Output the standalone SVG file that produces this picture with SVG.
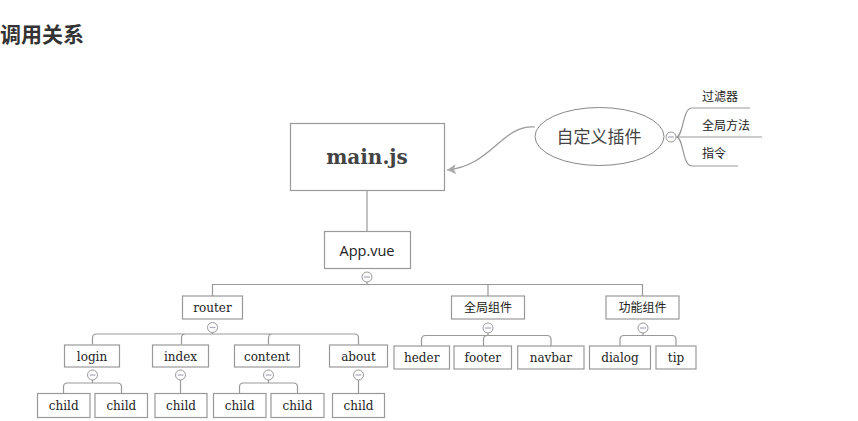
<svg xmlns="http://www.w3.org/2000/svg" width="858" height="421" viewBox="0 0 858 421">
<defs>
<style>
.box{fill:#fff;stroke:#999;stroke-width:1.2}
.ln{fill:none;stroke:#999;stroke-width:1.2}
.tg{fill:#fff;stroke:#999;stroke-width:1}
.mn{stroke:#aab;stroke-width:1.2}
.sf{font-family:"DejaVu Serif","Liberation Serif",serif;font-size:12px;fill:#222;text-anchor:middle}
.cj{font-family:"Noto Sans CJK SC","Noto Sans",sans-serif;font-size:12px;fill:#222}
.mid{text-anchor:middle}
</style>
<marker id="arr" markerWidth="10" markerHeight="10" refX="9" refY="5" orient="auto" markerUnits="userSpaceOnUse">
<path d="M0,0 L9,5 L0,10 L2,5 Z" fill="#aaa"/>
</marker>
</defs>
<rect width="858" height="421" fill="#fff"/>
<text x="0" y="42" font-family="Noto Sans CJK SC,sans-serif" font-size="21" font-weight="bold" fill="#333">调用关系</text>

<g id="connectors">
<path class="ln" d="M535,127 C502,124 492,166 447,170" marker-end="url(#arr)"/>
<line class="ln" x1="367" y1="191" x2="367" y2="231.5"/>
<path class="ln" d="M367,282 V284.5 M212.5,296 V284.5 H642.5 V296 M488,284.5 V296"/>
<path class="ln" d="M212.5,332.5 V334 M92.5,344.5 V338 Q92.5,334 96.5,334 H354.5 Q358.5,334 358.5,338 V344.5 M181.5,344.5 V338 Q181.5,334 185.5,334 M268.5,344.5 V338 Q268.5,334 272.5,334"/>
<path class="ln" d="M92.5,380 V383 M63.5,393.5 V387 Q63.5,383 67.5,383 H117.5 Q121.5,383 121.5,387 V393.5"/>
<path class="ln" d="M180.5,380 V393.5"/>
<path class="ln" d="M268.5,380 V383 M239.5,393.5 V387 Q239.5,383 243.5,383 H293.5 Q297.5,383 297.5,387 V393.5"/>
<path class="ln" d="M358.5,380 V393.5"/>
<path class="ln" d="M488,333 V335.5 M421.5,346 V339.5 Q421.5,335.5 425.5,335.5 H547 Q551,335.5 551,339.5 V346 M483.5,346 V339.5 Q483.5,335.5 487.5,335.5"/>
<path class="ln" d="M643,333 V335.5 M620,346 V339.5 Q620,335.5 624,335.5 H672 Q676,335.5 676,339.5 V346"/>
<path class="ln" d="M676,137 H762 M676,137 C684,137 682,108 692,108 H750 M676,137 C684,137 682,166 692,166 H738"/>
</g>

<g id="main">
<rect class="box" x="290.5" y="123.5" width="154" height="67"/>
<text x="367" y="164" font-family="DejaVu Serif,serif" font-weight="bold" font-size="20" fill="#444" text-anchor="middle">main.js</text>
</g>

<g id="plugin">
<ellipse cx="599.5" cy="136.5" rx="64.5" ry="29" fill="#fff" stroke="#888" stroke-width="1"/>
<text x="599" y="143" class="cj mid" style="font-size:17px;fill:#444">自定义插件</text>
<circle class="tg" cx="671" cy="137" r="5"/><line class="mn" x1="668" y1="137" x2="674" y2="137"/>
</g>
<g id="filter"><text class="cj" x="702" y="101">过滤器</text></g>
<g id="globalmethod"><text class="cj" x="702" y="130">全局方法</text></g>
<g id="directive"><text class="cj" x="702" y="158">指令</text></g>

<g id="app">
<rect class="box" x="324.5" y="231.5" width="86" height="37"/>
<text x="367" y="255.5" font-family="Open Sans,Liberation Sans,sans-serif" font-size="14.5" fill="#222" text-anchor="middle">App.vue</text>
<circle class="tg" cx="367" cy="277" r="5"/><line class="mn" x1="364" y1="277" x2="370" y2="277"/>
</g>

<g id="router">
<rect class="box" x="182.5" y="296" width="60" height="23"/>
<text class="sf" x="212.5" y="312">router</text>
<circle class="tg" cx="212.5" cy="327.5" r="5"/><line class="mn" x1="209.5" y1="327.5" x2="215.5" y2="327.5"/>
</g>
<g id="globalcomp">
<rect class="box" x="451.5" y="296" width="73" height="23"/>
<text class="cj mid" x="488" y="312">全局组件</text>
<circle class="tg" cx="488" cy="328" r="5"/><line class="mn" x1="485" y1="328" x2="491" y2="328"/>
</g>
<g id="funccomp">
<rect class="box" x="606" y="296" width="73" height="23"/>
<text class="cj mid" x="642.5" y="312">功能组件</text>
<circle class="tg" cx="643" cy="328" r="5"/><line class="mn" x1="640" y1="328" x2="646" y2="328"/>
</g>

<g id="login">
<rect class="box" x="64.5" y="345" width="55" height="22"/>
<text class="sf" x="92" y="361">login</text>
<circle class="tg" cx="92.5" cy="375" r="5"/><line class="mn" x1="89.5" y1="375" x2="95.5" y2="375"/>
</g>
<g id="index">
<rect class="box" x="152.5" y="345" width="56" height="22"/>
<text class="sf" x="180.5" y="361">index</text>
<circle class="tg" cx="180.5" cy="375" r="5"/><line class="mn" x1="177.5" y1="375" x2="183.5" y2="375"/>
</g>
<g id="content">
<rect class="box" x="234.5" y="345" width="65" height="22"/>
<text class="sf" x="267" y="361">content</text>
<circle class="tg" cx="268.5" cy="375" r="5"/><line class="mn" x1="265.5" y1="375" x2="271.5" y2="375"/>
</g>
<g id="about">
<rect class="box" x="329.5" y="345" width="58" height="22"/>
<text class="sf" x="358.5" y="361">about</text>
<circle class="tg" cx="358.5" cy="375" r="5"/><line class="mn" x1="355.5" y1="375" x2="361.5" y2="375"/>
</g>

<g id="login-child1"><rect class="box" x="37.5" y="393.5" width="52.5" height="24"/><text class="sf" x="63.7" y="410">child</text></g>
<g id="login-child2"><rect class="box" x="95" y="393.5" width="52.5" height="24"/><text class="sf" x="121.3" y="410">child</text></g>
<g id="index-child"><rect class="box" x="155" y="393.5" width="52" height="24"/><text class="sf" x="181" y="410">child</text></g>
<g id="content-child1"><rect class="box" x="213.5" y="393.5" width="52.5" height="24"/><text class="sf" x="239.7" y="410">child</text></g>
<g id="content-child2"><rect class="box" x="271" y="393.5" width="53" height="24"/><text class="sf" x="297.5" y="410">child</text></g>
<g id="about-child"><rect class="box" x="332.5" y="393.5" width="52" height="24"/><text class="sf" x="358.5" y="410">child</text></g>

<g id="heder"><rect class="box" x="394" y="346" width="55.5" height="23"/><text class="sf" x="421.7" y="362">heder</text></g>
<g id="footer"><rect class="box" x="454" y="346" width="57.5" height="23"/><text class="sf" x="482.8" y="362">footer</text></g>
<g id="navbar"><rect class="box" x="517.7" y="346" width="66.3" height="23"/><text class="sf" x="550.8" y="362">navbar</text></g>
<g id="dialog"><rect class="box" x="589.5" y="346" width="61" height="23"/><text class="sf" x="620" y="362">dialog</text></g>
<g id="tip"><rect class="box" x="656" y="346" width="40" height="23"/><text class="sf" x="676" y="362">tip</text></g>
</svg>
